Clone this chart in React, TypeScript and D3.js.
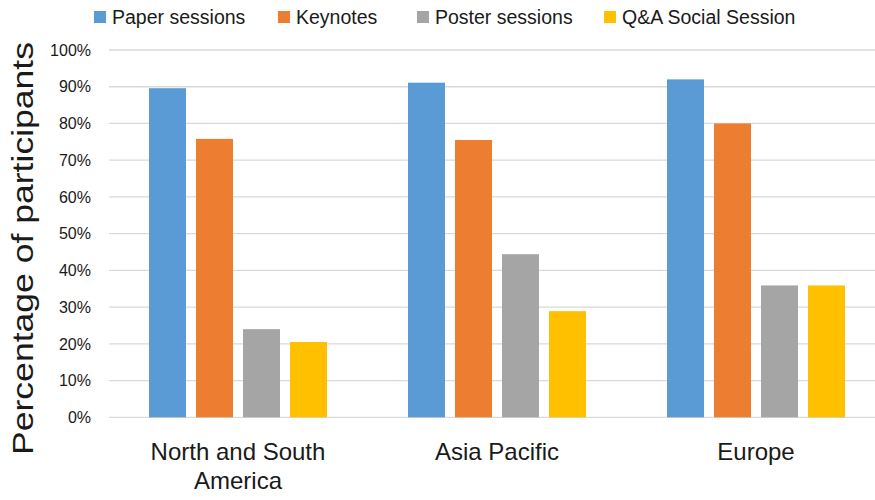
import React from "react";
import * as d3 from "d3";

const categories = ["North and South America", "Asia Pacific", "Europe"];
const categoryLines = [["North and South", "America"], ["Asia Pacific"], ["Europe"]];
const seriesNames = ["Paper sessions", "Keynotes", "Poster sessions", "Q&A Social Session"];
const paperSessions = [0.896, 0.911, 0.92];
const keynotes = [0.758, 0.755, 0.80];
const posterSessions = [0.24, 0.444, 0.359];
const qaSocial = [0.205, 0.289, 0.359];
const yTicks = [0, 0.1, 0.2, 0.3, 0.4, 0.5, 0.6, 0.7, 0.8, 0.9, 1.0];
const yTitle = "Percentage of participants";

const seriesValues = [paperSessions, keynotes, posterSessions, qaSocial];
const colors = ["#5B9BD5", "#ED7D31", "#A5A5A5", "#FFC000"];
const legendX = [94, 278, 417, 604];

const W = 875;
const H = 500;
const FONT = "'Liberation Sans', Arial, sans-serif";

export default function App() {
  const x0 = d3.scaleBand<string>().domain(categories).range([108.5, 885.5]).paddingInner(0).paddingOuter(0);
  const x1 = d3
    .scaleBand<string>()
    .domain(seriesNames)
    .range([0, x0.bandwidth()])
    .paddingInner(10 / 47)
    .paddingOuter(0.8617);
  const y = d3.scaleLinear().domain([0, 1]).range([417.3, 50]);
  const fmt = d3.format(".0%");

  return (
    <svg width={W} height={H} style={{ position: "absolute", left: 0, top: 0, background: "#fff" }} fontFamily={FONT}>
      <rect x={0} y={0} width={W} height={H} fill="#fff" />
      {/* gridlines */}
      {yTicks.map((t) => (
        <line key={"g" + t} x1={109} x2={W} y1={y(t)} y2={y(t)} stroke="#D9D9D9" strokeWidth={1.3} />
      ))}
      {/* y tick labels */}
      {yTicks.map((t) => (
        <text key={"t" + t} x={91} y={y(t)} dy="0.36em" textAnchor="end" fontSize={16} fill="#1a1a1a">
          {fmt(t)}
        </text>
      ))}
      {/* bars */}
      {categories.map((c, ci) => (
        <g key={c} transform={`translate(${x0(c)},0)`}>
          {seriesNames.map((s, si) => {
            const v = seriesValues[si][ci];
            return (
              <rect
                key={s}
                x={x1(s)}
                y={y(v)}
                width={x1.bandwidth()}
                height={y(0) - y(v)}
                fill={colors[si]}
              />
            );
          })}
        </g>
      ))}
      {/* category labels */}
      {categories.map((c, ci) => (
        <text key={"c" + c} textAnchor="middle" fontSize={24} fill="#1a1a1a">
          {categoryLines[ci].map((ln, li) => (
            <tspan key={li} x={(x0(c) ?? 0) + x0.bandwidth() / 2} y={460 + li * 29}>
              {ln}
            </tspan>
          ))}
        </text>
      ))}
      {/* y-axis title */}
      <text
        transform={`translate(33, 248.5) rotate(-90)`}
        textAnchor="middle"
        fontSize={30}
        textLength={413}
        lengthAdjust="spacingAndGlyphs"
        fill="#1a1a1a"
      >
        {yTitle}
      </text>
      {/* legend */}
      {seriesNames.map((s, si) => (
        <g key={"l" + s} transform={`translate(${legendX[si]},0)`}>
          <rect x={0} y={11} width={12} height={12} fill={colors[si]} />
          <text x={18} y={24} fontSize={19.5} fill="#1a1a1a">
            {s}
          </text>
        </g>
      ))}
    </svg>
  );
}
